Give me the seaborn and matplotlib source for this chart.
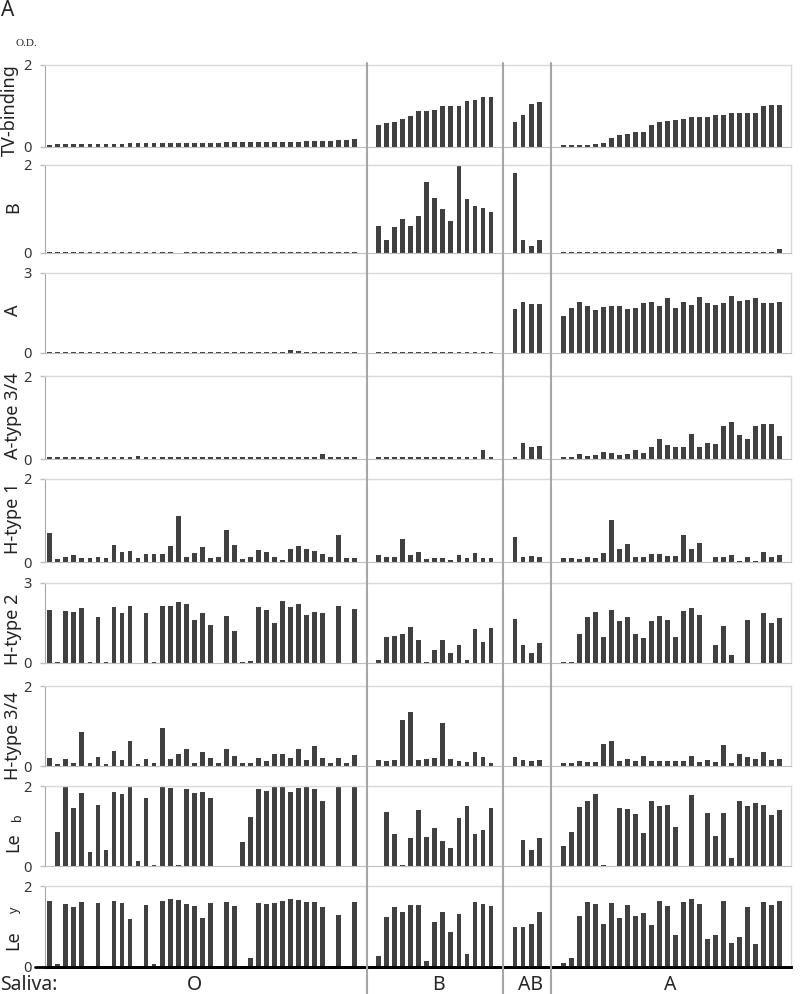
import numpy as np
import pandas as pd
import seaborn as sns
import matplotlib.pyplot as plt
from matplotlib.lines import Line2D

# saliva groups, in plotting order, and number of empty slots between groups
groups = ['O', 'B', 'AB', 'A']
gap = 2

# O.D. values, one list per saliva group
tv_binding = dict(
    O=[0.06, 0.07, 0.07, 0.07, 0.07, 0.07, 0.07, 0.07, 0.07, 0.08, 0.09, 0.09, 0.09,
       0.09, 0.09, 0.09, 0.09, 0.09, 0.10, 0.10, 0.10, 0.10, 0.11, 0.11, 0.11, 0.12,
       0.12, 0.13, 0.13, 0.13, 0.13, 0.13, 0.14, 0.14, 0.15, 0.15, 0.16, 0.17, 0.20],
    B=[0.53, 0.58, 0.61, 0.69, 0.76, 0.87, 0.87, 0.91, 0.99, 1.00, 1.00, 1.13, 1.15, 1.21, 1.22],
    AB=[0.61, 0.77, 1.04, 1.10],
    A=[0.06, 0.06, 0.06, 0.06, 0.08, 0.10, 0.22, 0.30, 0.32, 0.36, 0.36, 0.54, 0.61, 0.64,
       0.66, 0.69, 0.73, 0.73, 0.73, 0.77, 0.78, 0.82, 0.83, 0.84, 0.84, 0.99, 1.02, 1.02])

b_antigen = dict(
    O=[0.02] * 16 + [0.0] + [0.02] * 22,
    B=[0.62, 0.30, 0.59, 0.78, 0.62, 0.85, 1.61, 1.25, 1.01, 0.72, 2.0, 1.23, 1.06, 1.03, 0.94],
    AB=[1.81, 0.29, 0.15, 0.29],
    A=[0.02] * 27 + [0.08])

a_antigen = dict(
    O=[0.02] * 30 + [0.12, 0.09] + [0.02] * 7,
    B=[0.02] * 15,
    AB=[1.66, 1.91, 1.83, 1.83],
    A=[1.39, 1.67, 1.93, 1.76, 1.62, 1.72, 1.76, 1.78, 1.66, 1.69, 1.86, 1.90, 1.77, 2.05,
       1.70, 1.93, 1.81, 2.09, 1.87, 1.80, 1.87, 2.12, 1.95, 1.97, 2.08, 1.86, 1.87, 1.92])

a_type34 = dict(
    O=[0.04] * 11 + [0.08] + [0.04] * 22 + [0.13] + [0.04] * 4,
    B=[0.04] * 13 + [0.21, 0.05],
    AB=[0.05, 0.38, 0.28, 0.31],
    A=[0.06, 0.06, 0.13, 0.08, 0.10, 0.16, 0.14, 0.10, 0.11, 0.22, 0.14, 0.28, 0.47, 0.34,
       0.30, 0.30, 0.60, 0.29, 0.39, 0.35, 0.79, 0.90, 0.58, 0.47, 0.80, 0.84, 0.85, 0.55])

h_type1 = dict(
    O=[0.70, 0.08, 0.12, 0.16, 0.10, 0.10, 0.11, 0.09, 0.42, 0.24, 0.26, 0.09, 0.20, 0.20,
       0.20, 0.39, 1.10, 0.13, 0.21, 0.37, 0.10, 0.12, 0.76, 0.40, 0.08, 0.13, 0.30, 0.25,
       0.11, 0.06, 0.32, 0.39, 0.31, 0.27, 0.19, 0.12, 0.65, 0.10, 0.10],
    B=[0.18, 0.13, 0.12, 0.56, 0.17, 0.23, 0.07, 0.10, 0.10, 0.06, 0.17, 0.09, 0.21, 0.10, 0.10],
    AB=[0.60, 0.11, 0.15, 0.11],
    A=[0.10, 0.10, 0.08, 0.12, 0.10, 0.21, 1.01, 0.31, 0.44, 0.11, 0.12, 0.19, 0.19, 0.15,
       0.15, 0.66, 0.31, 0.46, 0.01, 0.12, 0.12, 0.17, 0.02, 0.11, 0.02, 0.23, 0.13, 0.17])

h_type2 = dict(
    O=[1.98, 0.02, 1.96, 1.92, 2.06, 0.02, 1.74, 0.02, 2.11, 1.86, 2.13, 0.01, 1.88, 0.02,
       2.12, 2.12, 2.28, 2.22, 1.61, 1.88, 1.41, 0.01, 1.76, 1.21, 0.02, 0.06, 2.09, 2.00,
       1.49, 2.33, 2.11, 2.21, 1.79, 1.93, 1.86, 0.01, 2.14, 0.01, 2.01],
    B=[0.10, 0.97, 1.03, 1.08, 1.35, 0.88, 0.04, 0.50, 0.86, 0.36, 0.67, 0.12, 1.29, 0.78, 1.31],
    AB=[1.65, 0.68, 0.37, 0.74],
    A=[0.02, 0.02, 1.10, 1.72, 1.90, 0.98, 1.98, 1.57, 1.74, 1.09, 0.95, 1.56, 1.78, 1.61,
       0.97, 1.96, 2.05, 1.81, 0.0, 0.66, 1.39, 0.29, 0.0, 1.61, 0.0, 1.86, 1.49, 1.67])

h_type34 = dict(
    O=[0.19, 0.06, 0.18, 0.08, 0.86, 0.07, 0.23, 0.06, 0.37, 0.16, 0.62, 0.06, 0.17, 0.07,
       0.95, 0.18, 0.31, 0.43, 0.08, 0.34, 0.21, 0.07, 0.43, 0.24, 0.07, 0.07, 0.21, 0.13,
       0.31, 0.31, 0.20, 0.43, 0.16, 0.49, 0.21, 0.07, 0.21, 0.07, 0.27],
    B=[0.15, 0.12, 0.15, 1.14, 1.36, 0.15, 0.17, 0.20, 1.08, 0.18, 0.12, 0.11, 0.36, 0.23, 0.08],
    AB=[0.23, 0.14, 0.13, 0.15],
    A=[0.08, 0.08, 0.12, 0.11, 0.09, 0.54, 0.63, 0.12, 0.18, 0.13, 0.25, 0.12, 0.13, 0.13,
       0.13, 0.12, 0.26, 0.10, 0.14, 0.09, 0.53, 0.08, 0.31, 0.23, 0.17, 0.36, 0.15, 0.18])

le_b = dict(
    O=[0.01, 0.84, 1.99, 1.46, 1.83, 0.36, 1.53, 0.41, 1.84, 1.79, 2.0, 0.12, 1.69, 0.02,
       1.99, 1.96, 0.03, 1.92, 1.83, 1.85, 1.70, 0.01, 0.01, 0.01, 0.60, 1.22, 1.92, 1.87,
       1.99, 1.99, 1.86, 1.96, 1.99, 1.93, 1.63, 0.01, 2.0, 0.01, 1.99],
    B=[0.01, 1.34, 0.79, 0.02, 0.71, 1.39, 0.73, 0.96, 0.62, 0.46, 1.21, 1.50, 0.80, 0.91, 1.44],
    AB=[0.01, 0.65, 0.41, 0.70],
    A=[0.50, 0.85, 1.47, 1.63, 1.79, 0.02, 0.01, 1.46, 1.43, 1.31, 0.82, 1.63, 1.49, 1.52,
       0.97, 0.01, 1.78, 0.01, 1.32, 0.76, 1.33, 0.21, 1.63, 1.49, 1.58, 1.52, 1.27, 1.41])

le_y = dict(
    O=[1.64, 0.07, 1.55, 1.49, 1.60, 0.03, 1.59, 0.02, 1.63, 1.57, 1.18, 0.03, 1.54, 0.07,
       1.62, 1.69, 1.66, 1.56, 1.50, 1.21, 1.57, 0.02, 1.60, 1.50, 0.03, 0.21, 1.57, 1.55,
       1.59, 1.64, 1.68, 1.65, 1.61, 1.60, 1.48, 0.03, 1.28, 0.03, 1.61],
    B=[0.27, 1.24, 1.47, 1.36, 1.53, 1.53, 0.16, 1.10, 1.37, 0.87, 1.32, 0.32, 1.60, 1.55, 1.50],
    AB=[0.98, 0.98, 1.07, 1.36],
    A=[0.09, 0.21, 1.26, 1.61, 1.55, 1.07, 1.58, 1.21, 1.52, 1.26, 1.34, 1.03, 1.64, 1.50,
       0.79, 1.61, 1.69, 1.55, 0.69, 0.79, 1.63, 0.60, 0.74, 1.47, 0.58, 1.60, 1.52, 1.64])

# label, y max, data, (top px, zero px), label centre y px
panels = [
    ('TV-binding', 2, tv_binding, 65, 147, 110),
    ('B', 2, b_antigen, 165, 253, 207),
    ('A', 3, a_antigen, 273, 353, 310),
    ('A-type 3/4', 2, a_type34, 376, 459, 416),
    ('H-type 1', 2, h_type1, 479, 562, 518),
    ('H-type 2', 3, h_type2, 583, 663, 629),
    ('H-type 3/4', 2, h_type34, 686, 766, 736),
    ('Le', 2, le_b, 786, 866, 842),
    ('Le', 2, le_y, 886, 967, 940),
]

sns.set_style('white')
plt.rcParams['font.family'] = ['Noto Sans', 'DejaVu Sans']

W, H = 800, 994
L, R = 45, 791
fig = plt.figure(figsize=(W / 100, H / 100), dpi=100)

bar_color = '#404040'


def long_form(d):
    rows = []
    start = 0
    for g in groups:
        for i, v in enumerate(d[g]):
            rows.append((start + i, g, v))
        start += len(d[g]) + gap
    return pd.DataFrame(rows, columns=['slot', 'saliva', 'od'])


axes = []
for k, (label, ymax, d, top, bottom, ly) in enumerate(panels):
    ax = fig.add_axes([L / W, 1 - bottom / H, (R - L) / W, (bottom - top) / H])
    df = long_form(d)
    df['od'] = df['od'].clip(upper=ymax)
    sns.barplot(data=df, x='slot', y='od', native_scale=True, width=0.6,
                color=bar_color, saturation=1, linewidth=0, ax=ax)
    ax.set_xlim(-0.6, 92.4)
    ax.set_ylim(0, ymax)
    ax.set_yticks([0, ymax])
    ax.set_xticks([])
    ax.set_xlabel('')
    ax.set_ylabel('')
    ax.tick_params(axis='y', length=3.6, width=1, color='#bfbfbf', pad=6,
                   labelsize=10.5, labelcolor='#333333', left=True)
    for side in ['top', 'right']:
        ax.spines[side].set_color('#d9d9d9')
        ax.spines[side].set_linewidth(1)
    ax.spines['left'].set_color('#a6a6a6')
    ax.spines['bottom'].set_color('#bfbfbf')
    ax.patch.set_alpha(0)
    axes.append(ax)
    fig.text(13 / W if k else 10 / W, 1 - ly / H, label, rotation=90,
             ha='center', va='center', fontsize=13, color='#222222')

# superscripts of the Lewis antigen labels
fig.text(18 / W, 1 - 817 / H, 'b', rotation=90, ha='center', va='center',
         fontsize=9, color='#222222')
fig.text(14 / W, 1 - 910 / H, 'y', rotation=90, ha='center', va='center',
         fontsize=9, color='#222222')

# heavy baseline on the bottom panel
last = axes[-1]
last.spines['bottom'].set_color('black')
last.spines['bottom'].set_linewidth(2)
last.plot([-0.013, 1], [0, 0], color='black', lw=2, transform=last.get_yaxis_transform(),
          clip_on=False)

# vertical separators between saliva groups, running through all panels
inv = fig.transFigure.inverted()
sizes = [len(le_y[g]) for g in groups]
ends = np.cumsum([s + gap for s in sizes])
for e in ends[:-1]:
    xs = e - gap - 0.5 + gap / 2
    xf = inv.transform(last.transData.transform((xs, 0)))[0]
    fig.add_artist(Line2D([xf, xf], [0, 1 - 63 / H], color='#a6a6a6', lw=1.5))

# group names along the bottom
fig.text(0 / W, 1 - 985 / H, 'Saliva:', ha='left', va='center', fontsize=14)
for name, xp in zip(groups, [195, 438, 530, 670]):
    fig.text(xp / W, 1 - 985 / H, name, ha='center', va='center', fontsize=14)

fig.text(8 / W, 1 - 11 / H, 'A', ha='center', va='center', fontsize=15)
fig.text(26 / W, 1 - 43 / H, 'O.D.', ha='center', va='center', fontsize=8,
         family=['Liberation Serif', 'DejaVu Serif'])

fig.savefig('out.png', dpi=100)
